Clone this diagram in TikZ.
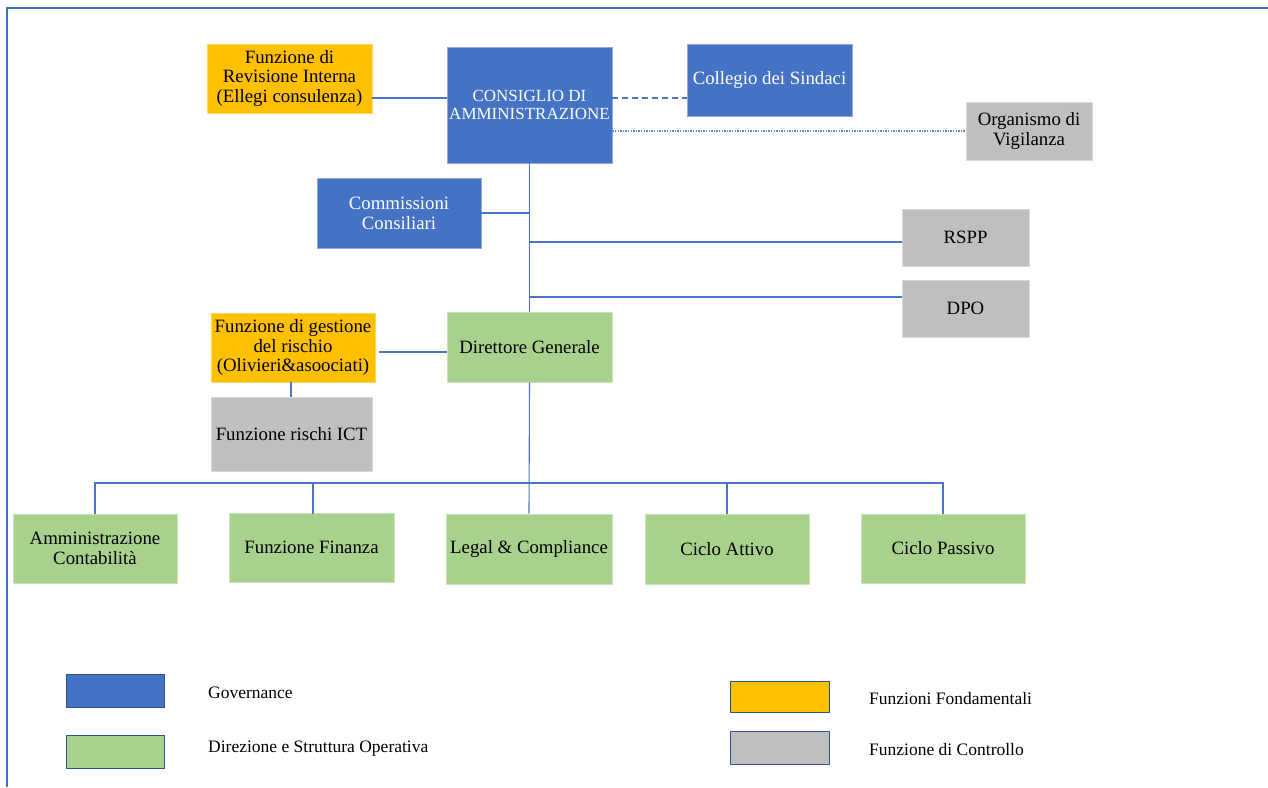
\documentclass[tikz,border=0pt]{standalone}
\usepackage{fontspec}
\setmainfont{Liberation Serif}
\definecolor{gblue}{HTML}{4472C4}
\definecolor{gorange}{HTML}{FFC000}
\definecolor{ggreen}{HTML}{A9D18E}
\definecolor{ggray}{HTML}{BFBFBF}
\definecolor{lborder}{HTML}{2F528F}
\definecolor{conn}{HTML}{4A75C4}
\begin{document}
\begin{tikzpicture}[x=1pt,y=-1pt,
  box/.style={rectangle, inner sep=1pt, align=center, font=\fontsize{18.8}{19.8}\selectfont, line width=0.8pt},
  bluebox/.style={box, fill=gblue, draw=gblue!60!white, text=white},
  orangebox/.style={box, fill=gorange, draw=gorange!60!white, text=black},
  greenbox/.style={box, fill=ggreen, draw=ggreen!60!white, text=black},
  graybox/.style={box, fill=ggray, draw=ggray!60!white, text=black},
  legbox/.style={rectangle, draw=lborder, line width=0.9pt, minimum width=98pt, minimum height=33pt, inner sep=0pt},
  legtext/.style={anchor=west, inner sep=0pt, font=\fontsize{17.5}{19}\selectfont},
  link/.style={draw=conn, line width=1.1pt},
  sz/.style 2 args={minimum width=#1pt, minimum height=#2pt}
]
\useasboundingbox (0,0) rectangle (1268,787);
\fill[white] (0,0) rectangle (1268,787);
% frame
\draw[gblue, line width=1.6pt] (1268,8) -- (7,8) -- (7,787);

% nodes
\node[orangebox, sz={165}{69}] (rev) at (289.5,78.5) {Funzione di\\Revisione Interna\\(Ellegi consulenza)};
\node[bluebox, sz={165}{116}, font=\fontsize{17}{18}\selectfont] (cda) at (529.5,105) {CONSIGLIO DI\\AMMINISTRAZIONE};
\node[bluebox, sz={165}{72}] (col) at (769.5,80) {Collegio dei Sindaci};
\node[graybox, sz={126}{58}] (odv) at (1029,131) {Organismo di\\Vigilanza};
\node[bluebox, sz={164}{70}] (com) at (399,213) {Commissioni\\Consiliari};
\node[graybox, sz={127}{57}] (rspp) at (965.5,237.5) {RSPP};
\node[graybox, sz={127}{57}] (dpo) at (965.5,308.5) {DPO};
\node[greenbox, sz={165}{70}] (dg) at (529.5,347) {Direttore Generale};
\node[orangebox, sz={164}{69}] (ges) at (293,347.5) {Funzione di gestione\\del rischio\\(Olivieri\&asoociati)};
\node[graybox, sz={161}{74}] (ict) at (291.5,434) {Funzione rischi ICT};
\node[greenbox, sz={164}{69}] (amm) at (95,548.5) {Amministrazione\\Contabilità};
\node[greenbox, sz={165}{69}] (fin) at (311.5,547.5) {Funzione Finanza};
\node[greenbox, sz={166}{70}] (leg) at (529,549) {Legal \& Compliance};
\node[greenbox, sz={164}{70}] (att) at (727,549) {Ciclo Attivo};
\node[greenbox, sz={164}{69}] (pas) at (943,548.5) {Ciclo Passivo};

% helper coordinates
\coordinate (revy) at ([yshift=-19.5pt]rev.east);
\coordinate (coly) at ([yshift=7pt]cda.east);
\coordinate (odvy) at ([yshift=-26pt]cda.east);
\coordinate (trunkcom) at (cda.south |- com.east);
\coordinate (trunkrspp) at (529.5,242);
\coordinate (trunkdpo) at (529.5,297);
\coordinate (gesy) at ([yshift=-4.5pt]ges.east);
\coordinate (bus) at (529,483);

% connectors
\draw[link] (revy) -- (revy -| cda.west);
\draw[link, dash pattern=on 6pt off 4pt, line width=1.6pt] (coly) -- (coly -| col.west);
\draw[link, dash pattern=on 1.4pt off 1.2pt, line width=1.3pt, draw=conn!85!white] (odvy) -- (odvy -| odv.west);
\draw[link] (cda.south) -- (dg.north);
\draw[link] (com.east) -- (trunkcom);
\draw[link] (trunkrspp) -- (trunkrspp -| rspp.west);
\draw[link] (trunkdpo) -- (trunkdpo -| dpo.west);
\draw[link] ([xshift=4pt]gesy) -- (gesy -| dg.west);
\draw[link] (ict.north -| 291,0) -- (291,382);
\draw[link] (dg.south) -- (leg.north);
\draw[link] (amm.north) |- (bus) -| (pas.north);
\draw[link] (fin.north -| 313,0) |- (bus);
\draw[link] (fin.north -| 313,0) -- (313,513);
\draw[link] (att.north) -- (att.north |- bus);

% legend
\node[legbox, fill=gblue] (lgov) at (115,690.5) {};
\node[legbox, fill=ggreen] (ldir) at (115,751.5) {};
\node[legbox, fill=gorange, minimum width=99pt, minimum height=31pt] (lfon) at (779.5,696.5) {};
\node[legbox, fill=ggray, minimum width=99pt] (lctl) at (779.5,747.5) {};
\node[legtext] (tgov) at (208,693) {Governance};
\node[legtext] (tdir) at (208,749) {Direzione e Struttura Operativa};
\node[legtext] (tfon) at (869,699) {Funzioni Fondamentali};
\node[legtext] (tctl) at (869,750) {Funzione di Controllo};
\end{tikzpicture}
\end{document}
